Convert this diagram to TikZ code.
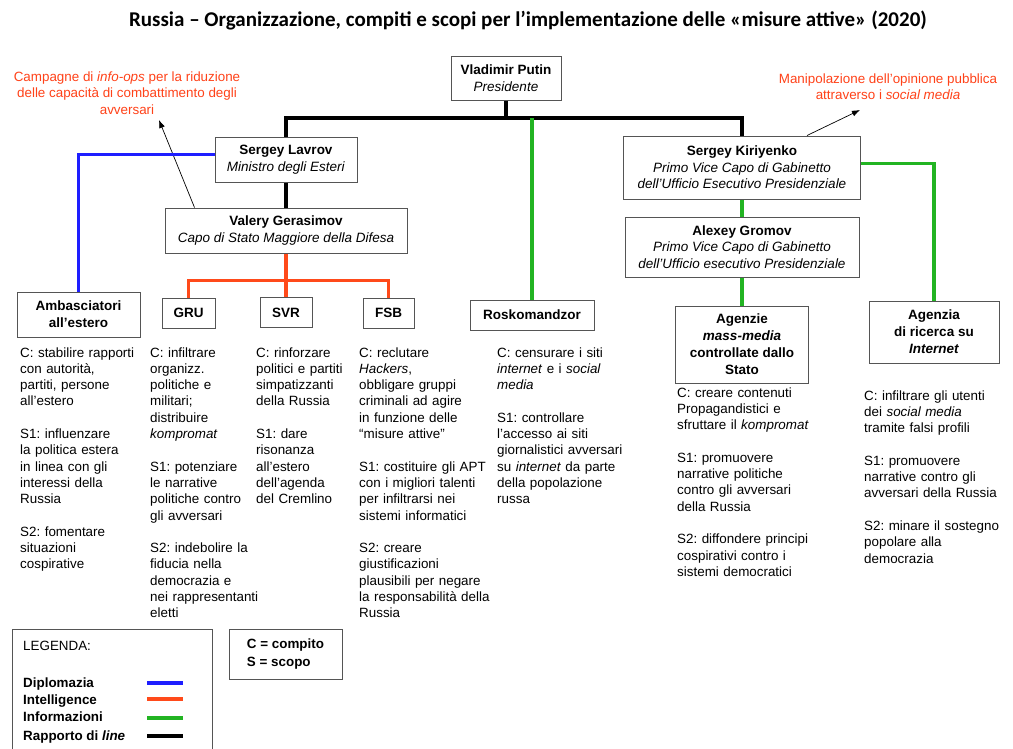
\documentclass[tikz,border=0pt]{standalone}
\usepackage{fontspec}
\setmainfont{Liberation Sans}
\newfontfamily\titlefont{Carlito}
\usepackage{tikz}
\usetikzlibrary{arrows.meta,positioning,calc}
\frenchspacing
\definecolor{cBlue}{HTML}{1E1EFF}
\definecolor{cRed}{HTML}{FF4A1A}
\definecolor{cGreen}{HTML}{22B422}
\definecolor{cNote}{HTML}{FF4219}
\definecolor{cEdge}{HTML}{555555}
\tikzset{
  ubox/.style 2 args={draw=cEdge,line width=1pt,align=center,inner sep=0pt,
    font=\fontsize{13.5}{16.5}\selectfont,minimum width=#1,minimum height=#2},
  colt/.style={anchor=base west,inner sep=0pt,text width=165pt,align=left,
    font=\fontsize{13.4}{16.3}\selectfont},
  note/.style={align=center,inner sep=0pt,text=cNote,font=\fontsize{13.4}{16.5}\selectfont},
  lgd/.style={anchor=base west,inner sep=0pt,font=\fontsize{13.4}{16}\selectfont},
  frame/.style={draw=cEdge,line width=1pt},
  cmd/.style={line width=3.3pt,black},
  dipl/.style={line width=3.3pt,cBlue},
  intel/.style={line width=3.3pt,cRed},
  info/.style={line width=3.3pt,cGreen},
  arr/.style={-{Latex[length=8pt,width=6pt]},line width=0.7pt,black},
}
\begin{document}
\begin{tikzpicture}[x=1pt,y=-1pt]
  \useasboundingbox[fill=white] (0,0) rectangle (1013,748);
  % title
  \node[font=\titlefont\bfseries\fontsize{21}{24}\selectfont] (title) at (528,20)
    {Russia – Organizzazione, compiti e scopi per l’implementazione delle «misure attive» (2020)};
  % top of the chain
  \node[ubox={110pt}{44pt}] (putin) at (506,78) {\textbf{Vladimir Putin}\\\textit{Presidente}};
  \node[ubox={142pt}{45pt}] (lavrov) at (286,159.5) {\textbf{Sergey Lavrov}\\\textit{Ministro degli Esteri}};
  \node[ubox={242pt}{45pt}] (ger) at (286,230.5) {\textbf{Valery Gerasimov}\\\textit{Capo di Stato Maggiore della Difesa}};
  \node[ubox={237pt}{63pt}] (kiri) at (742,167.5)
    {\textbf{Sergey Kiriyenko}\\\textit{Primo Vice Capo di Gabinetto}\\\textit{dell’Ufficio Esecutivo Presidenziale}};
  \node[ubox={234pt}{60pt}] (gromov) at (742,247)
    {\textbf{Alexey Gromov}\\\textit{Primo Vice Capo di Gabinetto}\\\textit{dell’Ufficio esecutivo Presidenziale}};
  % agencies
  \node[ubox={123pt}{45pt},font=\bfseries\fontsize{13.5}{17}\selectfont] (amb) at (78.5,314.5) {Ambasciatori\\all’estero};
  \node[ubox={53pt}{30pt},font=\bfseries\fontsize{13.5}{16.5}\selectfont] (gru) at (188.5,313) {GRU};
  \node[ubox={52pt}{30pt},font=\bfseries\fontsize{13.5}{16.5}\selectfont] (svr) at (286,312.5) {SVR};
  \node[ubox={51pt}{30pt},font=\bfseries\fontsize{13.5}{16.5}\selectfont] (fsb) at (388.5,313) {FSB};
  \node[ubox={124pt}{30pt},font=\bfseries\fontsize{13.5}{16.5}\selectfont] (rosk) at (532,315) {Roskomandzor};
  \node[ubox={133pt}{77pt},font=\bfseries\fontsize{13.5}{17}\selectfont] (agm) at (742,344.5)
    {Agenzie\\\textit{mass-media}\\controllate dallo\\Stato};
  \node[ubox={130pt}{62pt},font=\bfseries\fontsize{13.5}{17}\selectfont] (agr) at (934,332)
    {Agenzia\\di ricerca su\\\textit{Internet}};
  % red notes
  \node[note] (opsnote) at (127,93)
    {Campagne di \textit{info-ops} per la riduzione\\delle capacità di combattimento degli\\avversari};
  \node[note] (smnote) at (888,86.5)
    {Manipolazione dell’opinione pubblica\\attraverso i \textit{social media}};
  \coordinate (opstip) at (159,120);
  \coordinate (smtip) at (860,110);
  \draw[arr] ($(ger.north west)+(30,0)$) -- (opstip);
  \draw[arr] ($(kiri.north west)+(184,0)$) -- (smtip);
  % connectors
  \coordinate (hub) at (506,118);
  \draw[cmd] (putin.south) -- (hub);
  \draw[cmd] (lavrov.north) |- (hub) -| (kiri.north);
  \draw[cmd] (lavrov.south) -- (ger.north);
  \draw[dipl] ($(lavrov.west)+(0,-5)$) -| (amb.north);
  \coordinate (ibar) at ($(ger.south)+(0,27)$);
  \draw[intel] (gru.north) |- (ibar) -| (fsb.north);
  \draw[intel] (ger.south) -- (svr.north);
  \draw[info] (hub -| rosk.north) -- (rosk.north);
  \draw[info] ($(kiri.east)+(0,-4)$) -| (agr.north);
  \draw[info] (kiri.south) -- (gromov.north);
  \draw[info] (gromov.south) -- (agm.north);
  % tasks and aims
  \node[colt] (ambtxt) at (20,357) {C: stabilire rapporti\\con autorità,\\partiti, persone\\all’estero\\[16.3pt]
    S1: influenzare\\la politica estera\\in linea con gli\\interessi della\\Russia\\[16.3pt]
    S2: fomentare\\situazioni\\cospirative};
  \node[colt] (grutxt) at (150,357) {C: infiltrare\\organizz.\\politiche e\\militari;\\distribuire\\\textit{kompromat}\\[16.3pt]
    S1: potenziare\\le narrative\\politiche contro\\gli avversari\\[16.3pt]
    S2: indebolire la\\fiducia nella\\democrazia e\\nei rappresentanti\\eletti};
  \node[colt] (svrtxt) at (256,357) {C: rinforzare\\politici e partiti\\simpatizzanti\\della Russia\\[16.3pt]
    S1: dare\\risonanza\\all’estero\\dell’agenda\\del Cremlino};
  \node[colt] (fsbtxt) at (359,357) {C: reclutare\\\textit{Hackers},\\obbligare gruppi\\criminali ad agire\\in funzione delle\\“misure attive”\\[16.3pt]
    S1: costituire gli APT\\con i migliori talenti\\per infiltrarsi nei\\sistemi informatici\\[16.3pt]
    S2: creare\\giustificazioni\\plausibili per negare\\la responsabilità della\\Russia};
  \node[colt] (rosktxt) at (497,357) {C: censurare i siti\\\textit{internet} e i \textit{social}\\\textit{media}\\[16.3pt]
    S1: controllare\\l’accesso ai siti\\giornalistici avversari\\su \textit{internet} da parte\\della popolazione\\russa};
  \node[colt] (agmtxt) at (677,397) {C: creare contenuti\\Propagandistici e\\sfruttare il \textit{kompromat}\\[16.3pt]
    S1: promuovere\\narrative politiche\\contro gli avversari\\della Russia\\[16.3pt]
    S2: diffondere principi\\cospirativi contro i\\sistemi democratici};
  \node[colt] (agrtxt) at (864,400) {C: infiltrare gli utenti\\dei \textit{social media}\\tramite falsi profili\\[16.3pt]
    S1: promuovere\\narrative contro gli\\avversari della Russia\\[16.3pt]
    S2: minare il sostegno\\popolare alla\\democrazia};
  % legend
  \draw[frame] (12,629) rectangle (212,760);
  \node[lgd] (leghead) at (23,650) {LEGENDA:};
  \node[lgd,font=\bfseries\fontsize{13.4}{16}\selectfont] (lgdipl) at (23,687) {Diplomazia};
  \node[lgd,font=\bfseries\fontsize{13.4}{16}\selectfont] (lgintel) at (23,704) {Intelligence};
  \node[lgd,font=\bfseries\fontsize{13.4}{16}\selectfont] (lginfo) at (23,721) {Informazioni};
  \node[lgd,font=\bfseries\fontsize{13.4}{16}\selectfont] (lgcmd) at (23,740) {Rapporto di \textit{line}};
  \draw[dipl] (147,683) -- (183,683);
  \draw[intel] (147,699) -- (183,699);
  \draw[info] (147,718) -- (183,718);
  \draw[cmd] (147,736) -- (183,736);
  \node[ubox={113pt}{50pt},align=left,font=\bfseries\fontsize{13.4}{18}\selectfont] (cskey) at (285.5,654)
    {C = compito\\S = scopo};
\end{tikzpicture}
\end{document}
